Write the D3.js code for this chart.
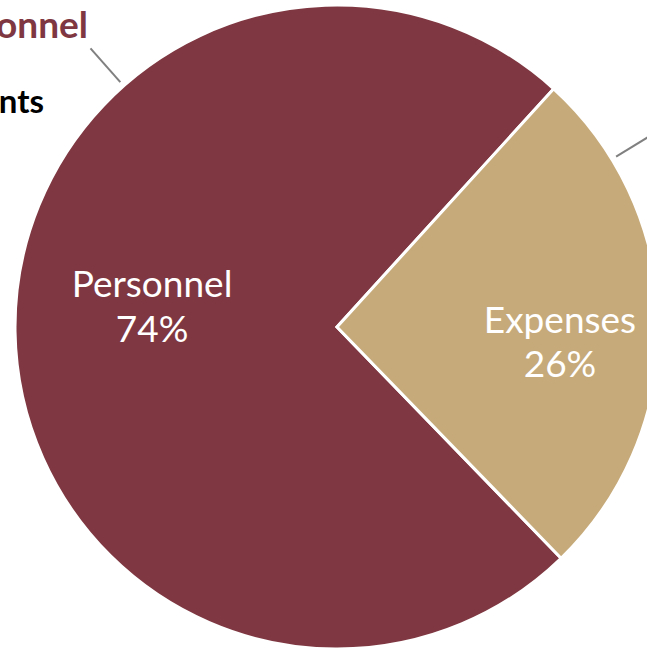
<!DOCTYPE html>
<html>
<head>
<meta charset="utf-8">
<script src="https://cdn.jsdelivr.net/npm/d3@7"></script>
<style>
  html, body { margin: 0; padding: 0; background: #fff; }
  svg { display: block; }
</style>
</head>
<body>
<svg id="chart" width="647" height="648"></svg>
<script>
// Budget split
const categories = ["Personnel", "Expenses"];
const shares = [74, 26];
const sliceColors = ["#7f3841", "#c6aa7a"];

// Callout annotations outside the pie
const calloutTitles = ["Personnel"];
const calloutNotes = ["Appointments"];
const calloutAngles = [318.5, 58.6];

const width = 647, height = 648;
const cx = 337, cy = 327, radius = 322;
const deg = Math.PI / 180;

const svg = d3.select("#chart");
const g = svg.append("g").attr("transform", `translate(${cx},${cy})`);

const data = categories.map((c, i) => ({ name: c, value: shares[i], color: sliceColors[i] }));

const startAngle = 135.9 * deg;
const pie = d3.pie().value(d => d.value).sort(null)
  .startAngle(startAngle).endAngle(startAngle + 2 * Math.PI);
const arcs = pie(data);

const arc = d3.arc().innerRadius(0).outerRadius(radius);

g.selectAll("path.slice")
  .data(arcs)
  .join("path")
  .attr("class", "slice")
  .attr("d", arc)
  .attr("fill", d => d.data.color)
  .attr("stroke", "#fff")
  .attr("stroke-width", 3)
  .attr("stroke-linejoin", "miter");

// Inside labels: name and percentage
const labelRadius = [185, 223];
const labelShift = [-33, 9];
arcs.forEach((a, i) => {
  const mid = (a.startAngle + a.endAngle) / 2;
  const x = labelRadius[i] * Math.sin(mid);
  const y = -labelRadius[i] * Math.cos(mid) + labelShift[i];
  const t = g.append("text")
    .attr("x", x).attr("y", y)
    .attr("text-anchor", "middle")
    .attr("fill", "#fff")
    .style("font-family", "Lato, sans-serif")
    .style("font-size", "37px");
  t.append("tspan").attr("x", x).text(a.data.name);
  t.append("tspan").attr("x", x).attr("dy", 45).text(d3.format(".0f")(a.data.value) + "%");
});

// Radial leader lines
calloutAngles.forEach(aDeg => {
  const a = aDeg * deg;
  g.append("line")
    .attr("x1", (radius + 5) * Math.sin(a)).attr("y1", -(radius + 5) * Math.cos(a))
    .attr("x2", (radius + 50) * Math.sin(a)).attr("y2", -(radius + 50) * Math.cos(a))
    .attr("stroke", "#808080")
    .attr("stroke-width", 2);
});

// Callout text for Personnel
svg.append("text")
  .attr("x", 88).attr("y", 38)
  .attr("text-anchor", "end")
  .attr("fill", "#7f3841")
  .style("font-family", "Lato, sans-serif")
  .style("font-weight", "bold")
  .style("font-size", "37px")
  .text(calloutTitles[0]);

svg.append("text")
  .attr("x", 44).attr("y", 113)
  .attr("text-anchor", "end")
  .attr("fill", "#000")
  .style("font-family", "Lato, sans-serif")
  .style("font-weight", "bold")
  .style("font-size", "33px")
  .text(calloutNotes[0]);
</script>
</body>
</html>
